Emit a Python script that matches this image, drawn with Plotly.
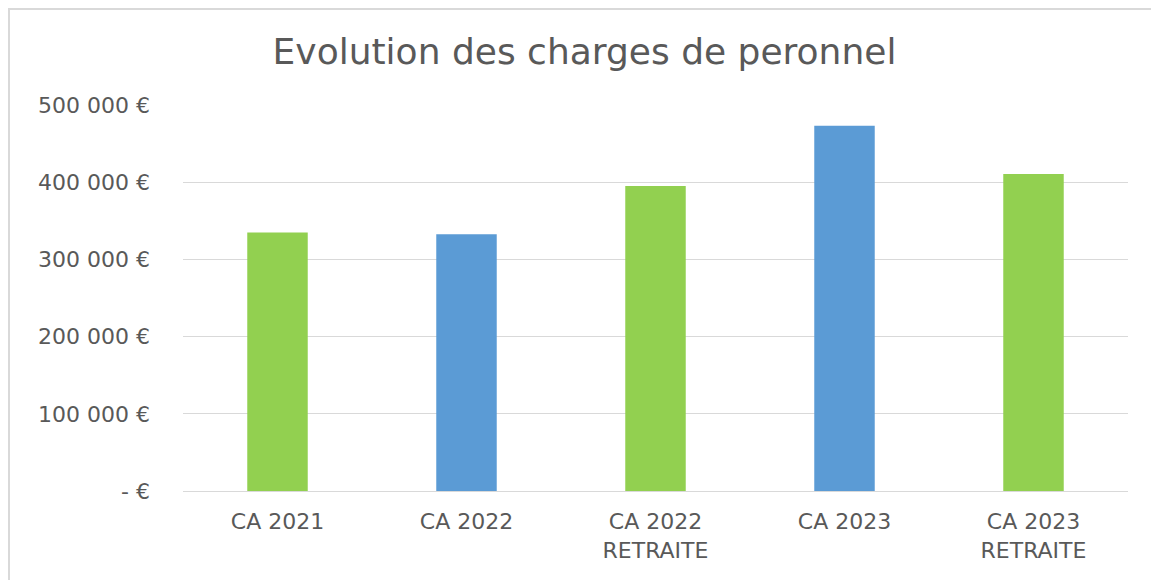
import plotly.graph_objects as go

categories = ["CA 2021", "CA 2022", "CA 2022<br>RETRAITE", "CA 2023", "CA 2023<br>RETRAITE"]
values = [335000, 332500, 395000, 473000, 410500]
bar_colors = ["#92D050", "#5B9BD5", "#92D050", "#5B9BD5", "#92D050"]
y_tick_vals = [0, 100000, 200000, 300000, 400000, 500000]
y_tick_text = ["- €", "100 000 €", "200 000 €", "300 000 €", "400 000 €", "500 000 €"]

W, H = 1159, 580
L, R, T, B = 175, 39, 97, 97
PW, PH = W - L - R, H - T - B
FONT = "DejaVu Sans"
TXT = "#595959"

fig = go.Figure(go.Bar(
    x=categories, y=values, marker=dict(color=bar_colors, line=dict(width=0)),
    hoverinfo="x+y",
))

fig.update_layout(
    width=W, height=H,
    paper_bgcolor="white", plot_bgcolor="white",
    margin=dict(l=L, r=R, t=T, b=B),
    bargap=0.68,
    showlegend=False,
    font=dict(family=FONT, color=TXT, size=22),
    title=dict(
        text="Evolution des charges de peronnel",
        x=576.5 / W, xanchor="center", xref="container",
        y=1 - 43 / H, yanchor="middle", yref="container",
        font=dict(family=FONT, size=36, color=TXT),
    ),
    xaxis=dict(
        showgrid=False, showline=True, linecolor="#D9D9D9", linewidth=1,
        ticks="", tickfont=dict(size=22, color=TXT), ticklabelstandoff=11,
    ),
    yaxis=dict(
        range=[0, 500000], tickvals=y_tick_vals, ticktext=y_tick_text,
        showgrid=True, gridcolor="#D9D9D9", gridwidth=1,
        zeroline=False, showline=False, ticks="",
        tickfont=dict(size=22, color=TXT), ticklabelstandoff=32,
    ),
    shapes=[dict(
        type="rect", xref="paper", yref="paper",
        x0=(1 - L) / PW, x1=(W + 20 - L) / PW,
        y0=(H - B - (H + 20)) / PH, y1=(H - B - 1) / PH,
        line=dict(color="#D9D9D9", width=2), fillcolor="rgba(0,0,0,0)", layer="below",
    )],
)

fig.write_html("out.html")
